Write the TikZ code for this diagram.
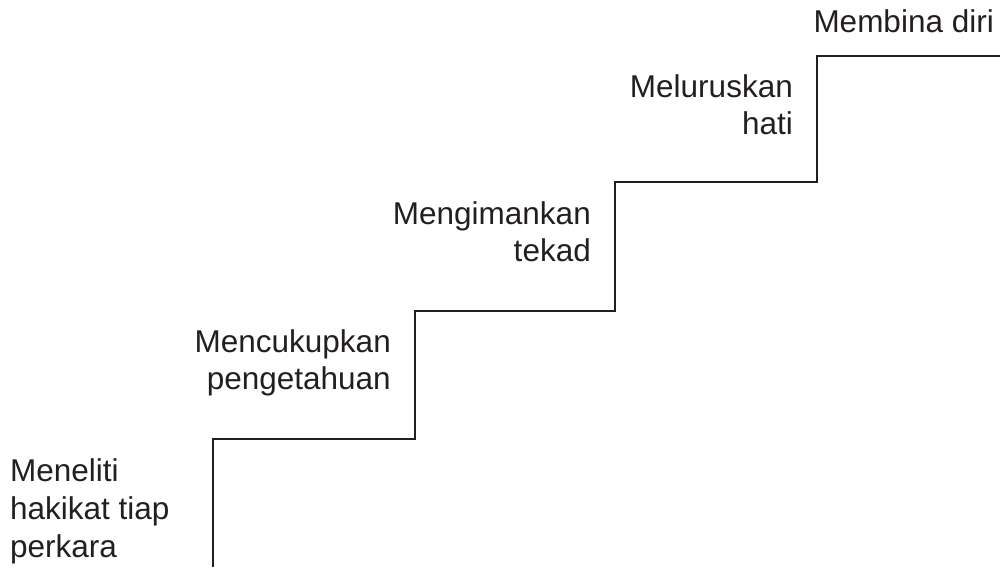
\documentclass[tikz,border=0pt]{standalone}
\usepackage{fontspec}
\setmainfont{Liberation Sans}
\definecolor{ink}{RGB}{35,31,32}
\tikzset{
  stair/.style={line width=2.2pt, color=ink, line join=miter},
  steplabel/.style={align=right, anchor=base east, inner sep=0pt, text=ink, font=\fontsize{31.5}{37.5}\selectfont},
}
\begin{document}
\begin{tikzpicture}[x=1pt,y=1pt]
\useasboundingbox (0,0) rectangle (1000,567);
% corners of the stairs
\coordinate (s0) at (213,0);
\coordinate (s1) at (213,128);
\coordinate (s2) at (415,128);
\coordinate (s3) at (415,256);
\coordinate (s4) at (615,256);
\coordinate (s5) at (615,385);
\coordinate (s6) at (817,385);
\coordinate (s7) at (817,511);
\coordinate (s8) at (1000,511);
\draw[stair] (s0) -- (s1) -- (s2) -- (s3) -- (s4) -- (s5) -- (s6) -- (s7) -- (s8);
% labels (base = last line)
\node[steplabel, align=left, anchor=base west] (meneliti) at (10,10) {Meneliti\\hakikat tiap\\perkara};
\node[steplabel] (mencukupkan) at (391,177) {Mencukupkan\\pengetahuan};
\node[steplabel] (mengimankan) at (591,305) {Mengimankan\\tekad};
\node[steplabel] (meluruskan) at (793,432) {Meluruskan\\hati};
\node[steplabel] (membina) at (994,534) {Membina diri};
\end{tikzpicture}
\end{document}
